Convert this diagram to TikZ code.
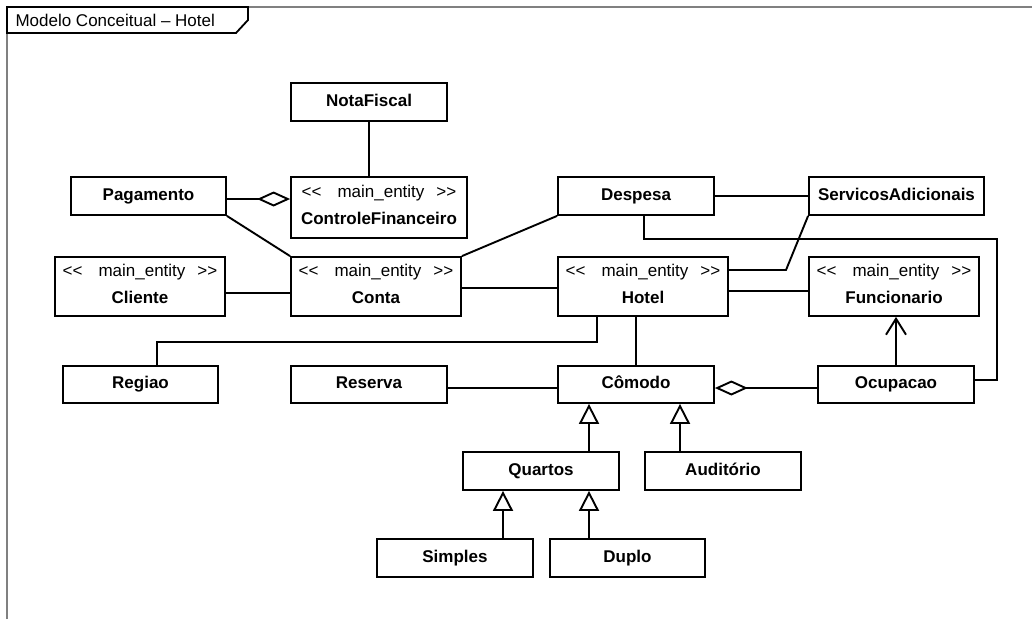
\documentclass[tikz,border=0pt]{standalone}
\usepackage{fontspec}
\setmainfont{Liberation Sans}
\usetikzlibrary{arrows.meta}
% stereotype line; \kern0pt keeps the angle brackets from merging into guillemets
\newcommand\mainentity{<\kern0pt<\hspace{16pt}main\_entity\hspace{12pt}>\kern0pt>}
\begin{document}
\begin{tikzpicture}[x=1pt,y=-1pt,
  every node/.style={font=\fontsize{17}{27}\selectfont},
  cls/.style={draw, line width=1.8pt, inner sep=0pt, minimum width=155pt,
    minimum height=38pt, text height=12.3pt, text depth=3.6pt,
    font=\fontsize{17}{27}\selectfont\bfseries},
  low/.style={minimum height=37pt},
  ent/.style={draw, line width=1.8pt, inner sep=0pt, minimum width=170pt,
    minimum height=59pt, align=center, text depth=6pt},
  link/.style={line width=1.9pt},
  agg/.style={link, -{Diamond[open, length=33pt, width=15pt]}},
  gen/.style={link, -{Triangle[open, length=20pt, width=20pt]}},
  nav/.style={link, -{Straight Barb[length=16pt, width=20pt]}},
]
\useasboundingbox (0,0) rectangle (1032,619);

% diagram frame and its name tab
\draw[line width=2pt, color={rgb,255:red,128;green,128;blue,128}] (7,619) -- (7,7) -- (1032,7);
\draw[line width=1.8pt, fill=white] (7,7) -- (248,7) -- (248,20) -- (236,33) -- (7,33) -- cycle;
\node[anchor=west, font=\fontsize{17}{20}\selectfont] (title) at (12,20.5) {Modelo Conceitual – Hotel};

% classes
\node[cls, minimum width=156pt] (nota) at (369,102) {NotaFiscal};
\node[cls] (pag) at (148.5,196) {Pagamento};
\node[ent, minimum width=176pt, minimum height=61pt] (cf) at (379,207.5) {\mainentity\\\textbf{ControleFinanceiro}};
\node[cls, minimum width=156pt] (desp) at (636,196) {Despesa};
\node[cls, minimum width=175pt] (serv) at (896.5,196) {ServicosAdicionais};
\node[ent] (cliente) at (140,286.5) {\mainentity\\\textbf{Cliente}};
\node[ent] (conta) at (376,286.5) {\mainentity\\\textbf{Conta}};
\node[ent] (hotel) at (643,286.5) {\mainentity\\\textbf{Hotel}};
\node[ent] (func) at (894,286.5) {\mainentity\\\textbf{Funcionario}};
\node[cls, low] (regiao) at (140.5,384.5) {Regiao};
\node[cls, low, minimum width=156pt] (reserva) at (369,384.5) {Reserva};
\node[cls, low, minimum width=156pt] (comodo) at (636,384.5) {Cômodo};
\node[cls, low, minimum width=156pt] (ocup) at (896,384.5) {Ocupacao};
\node[cls, minimum width=156pt] (quartos) at (541,471) {Quartos};
\node[cls, minimum width=156pt] (audit) at (723,471) {Auditório};
\node[cls, minimum width=156pt] (simples) at (455,558) {Simples};
\node[cls] (duplo) at (627.5,558) {Duplo};

% bend points
\coordinate (sbend) at (786,270);
\coordinate (dcorner) at (997,239);

% associations
\draw[link] (nota.south) -- (nota.south |- cf.north);
\draw[agg] ([yshift=-3pt]pag.east) -- ([yshift=-3pt]pag.east -| cf.west);
\draw[link] (pag.south east) -- (conta.north west);
\draw[link] (desp.south west) -- (conta.north east);
\draw[link] (desp.east) -- (desp.east -| serv.west);
\draw[link] (serv.south west) -- (sbend) -- (sbend -| hotel.east);
\draw[link] ([xshift=8pt]desp.south) |- (dcorner) |- ([yshift=4.5pt]ocup.east);
\draw[link] ([yshift=-6.5pt]cliente.east) -- ([yshift=-6.5pt]cliente.east -| conta.west);
\draw[link] ([yshift=-1.5pt]conta.east) -- ([yshift=-1.5pt]conta.east -| hotel.west);
\draw[link] ([yshift=-4.5pt]hotel.east) -- ([yshift=-4.5pt]hotel.east -| func.west);
\draw[link] ([xshift=-46pt]hotel.south) -- ++(0,25) -| ([xshift=16.5pt]regiao.north);
\draw[link] (comodo.north) -- (comodo.north |- hotel.south);
\draw[link] ([yshift=-3.5pt]reserva.east) -- ([yshift=-3.5pt]reserva.east -| comodo.west);
\draw[agg] ([yshift=-3.5pt]ocup.west) -- ([yshift=-3.5pt]ocup.west -| comodo.east);
\draw[nav] (ocup.north) -- (ocup.north |- func.south);

% generalizations
\draw[gen] ([xshift=48pt]quartos.north) -- ([xshift=48pt]quartos.north |- comodo.south);
\draw[gen] ([xshift=-43pt]audit.north) -- ([xshift=-43pt]audit.north |- comodo.south);
\draw[gen] ([xshift=48pt]simples.north) -- ([xshift=48pt]simples.north |- quartos.south);
\draw[gen] ([xshift=-38.5pt]duplo.north) -- ([xshift=-38.5pt]duplo.north |- quartos.south);
\end{tikzpicture}
\end{document}
